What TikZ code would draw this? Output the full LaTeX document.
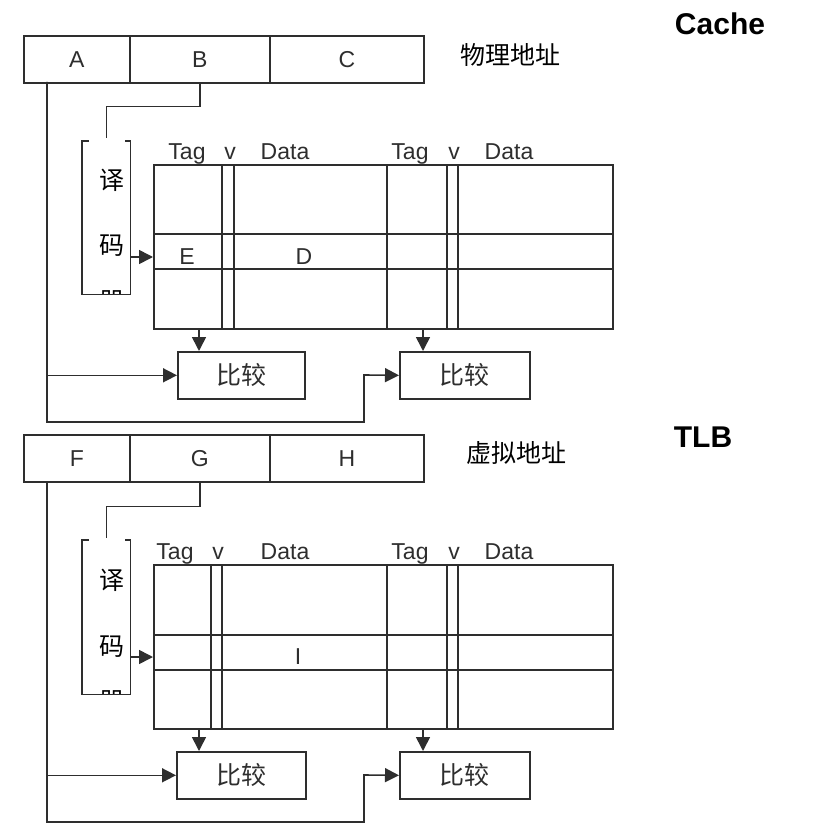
\documentclass[tikz,border=0pt]{standalone}
\usepackage{fontspec}
\setmainfont{Liberation Sans}
\newfontfamily\cjkfam{Noto Sans CJK SC}
\newcommand\latfont{\fontsize{23}{25}\selectfont}
\newcommand\cjkfont{\cjkfam\fontsize{25}{28}\selectfont}
\newcommand\ttlfont{\fontsize{30}{32}\selectfont\bfseries}
\usetikzlibrary{arrows.meta}
\begin{document}
\begin{tikzpicture}[x=1pt,y=-1pt,line width=1.6pt,color=black!82,
  reg/.style={draw, inner sep=0pt, minimum height=47pt, anchor=north west, font=\latfont},
  cmp/.style={draw, inner sep=0pt, minimum height=47pt, anchor=north west, font=\cjkfont},
  tbl/.style={draw, inner sep=0pt, minimum width=459pt, minimum height=164pt, anchor=north west},
  decbox/.style={inner sep=0pt, minimum width=47pt, anchor=north west},
  hdr/.style={anchor=base, inner sep=0pt, font=\latfont},
  lbl/.style={inner sep=0pt, font=\latfont},
  zh/.style={inner sep=0pt, font=\cjkfont, text=black},
  ttl/.style={inner sep=0pt, font=\ttlfont, text=black},
  arr/.style={-{Triangle[length=14pt,width=14pt]}}]
\useasboundingbox (0,0) rectangle (816,832);

% ================= Cache =================
\node[reg, minimum width=106pt] (A) at (23,35) {A};
\node[reg, minimum width=140pt] (B) at (129,35) {B};
\node[reg, minimum width=154pt] (C) at (269,35) {C};
\node[zh] (pa) at (510,55) {物理地址};
\node[ttl] (cache) at (720,24) {Cache};

\node[decbox, minimum height=152pt] (dec1) at (82,141) {};
\draw (dec1.north west) ++(7,0) -- (dec1.north west) -- (dec1.south west) -- (dec1.south east) -- (dec1.north east) -- ++(-6,0);
\node[zh] (y1) at (112,180) {译};
\node[zh] (m1) at (112,246) {码};
\begin{scope}
  \clip (82,141) rectangle (129,293);
  \node[zh] (q1) at (112,302) {器};
\end{scope}

\node[tbl] (tab1) at (153,164) {};
\draw (153,234) -- (612,234) (153,269) -- (612,269);
\foreach \x in {222,234,387,447,458} \draw (\x,164) -- (\x,328);
\node[hdr] (h1) at (187,159) {Tag};
\node[hdr] (h2) at (230,159) {v};
\node[hdr] (h3) at (285,159) {Data};
\node[hdr] (h4) at (410,159) {Tag};
\node[hdr] (h5) at (454,159) {v};
\node[hdr] (h6) at (509,159) {Data};
\node[lbl] (E) at (187,257) {E};
\node[lbl] (D) at (304,257) {D};

\node[cmp, minimum width=127pt] (cmp1) at (177,351) {比较};
\node[cmp, minimum width=130pt] (cmp2) at (399,351) {比较};

\coordinate (ta) at (47,82);
\coordinate (t1) at (199,328);
\coordinate (t2) at (423,328);
\draw (B.south) -- ++(0,23) -| ([yshift=3pt]dec1.north);
\draw[arr] (dec1.east |- E) -- (tab1.west |- E);
\draw[arr] (t1) -- (t1 |- cmp1.north);
\draw[arr] (t2) -- (t2 |- cmp2.north);
\draw[arr] (ta) |- (cmp1.west);
\draw[arr] (ta) -- (47,422) -| (364,375) -- (cmp2.west);

% ================= TLB =================
\node[reg, minimum width=106pt] (F) at (23,434) {F};
\node[reg, minimum width=140pt] (G) at (129,434) {G};
\node[reg, minimum width=154pt] (H) at (269,434) {H};
\node[zh] (va) at (516,453) {虚拟地址};
\node[ttl] (tlb) at (703,437) {TLB};

\node[decbox, minimum height=153pt] (dec2) at (82,540) {};
\draw (dec2.north west) ++(7,0) -- (dec2.north west) -- (dec2.south west) -- (dec2.south east) -- (dec2.north east) -- ++(-6,0);
\node[zh] (y2) at (112,580) {译};
\node[zh] (m2) at (112,647) {码};
\begin{scope}
  \clip (82,540) rectangle (129,693);
  \node[zh] (q2) at (112,702) {器};
\end{scope}

\node[tbl] (tab2) at (153,564) {};
\draw (153,635) -- (612,635) (153,670) -- (612,670);
\foreach \x in {211,222,387,447,458} \draw (\x,564) -- (\x,728);
\node[hdr] (k1) at (175,559) {Tag};
\node[hdr] (k2) at (218,559) {v};
\node[hdr] (k3) at (285,559) {Data};
\node[hdr] (k4) at (410,559) {Tag};
\node[hdr] (k5) at (454,559) {v};
\node[hdr] (k6) at (509,559) {Data};
\node[lbl] (I) at (298,657) {I};

\node[cmp, minimum width=129pt] (cmp3) at (176,751) {比较};
\node[cmp, minimum width=130pt] (cmp4) at (399,751) {比较};

\coordinate (tf) at (47,481);
\coordinate (t3) at (199,728);
\coordinate (t4) at (423,728);
\draw (G.south) -- ++(0,24) -| ([yshift=2pt]dec2.north);
\draw[arr] (dec2.east |- I) -- (tab2.west |- I);
\draw[arr] (t3) -- (t3 |- cmp3.north);
\draw[arr] (t4) -- (t4 |- cmp4.north);
\draw[arr] (tf) |- (cmp3.west);
\draw[arr] (tf) -- (47,822) -| (364,775) -- (cmp4.west);
\end{tikzpicture}
\end{document}
